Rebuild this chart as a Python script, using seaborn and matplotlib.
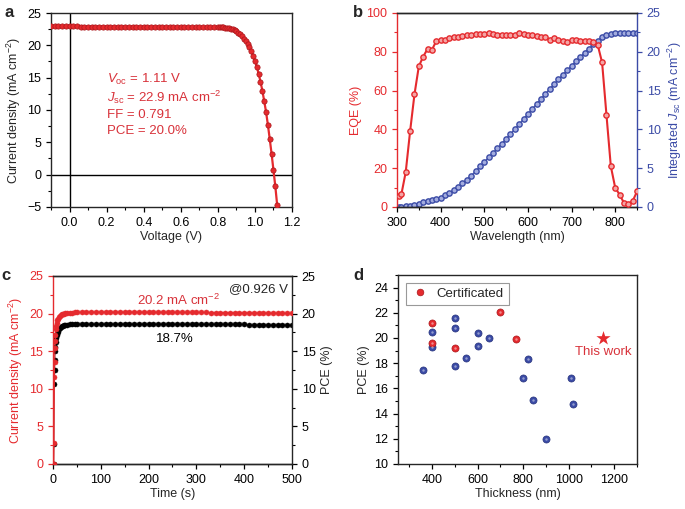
import matplotlib
matplotlib.use("Agg")
import matplotlib.pyplot as plt
from matplotlib.ticker import MultipleLocator
import seaborn as sns

# ---- a: J-V curve
voltage = [-0.10, -0.08, -0.06, -0.04, -0.02, 0.00, 0.02, 0.04, 0.06, 0.08,
           0.10, 0.12, 0.14, 0.16, 0.18, 0.20, 0.22, 0.24, 0.26, 0.28,
           0.30, 0.32, 0.34, 0.36, 0.38, 0.40, 0.42, 0.44, 0.46, 0.48,
           0.50, 0.52, 0.54, 0.56, 0.58, 0.60, 0.62, 0.64, 0.66, 0.68,
           0.70, 0.72, 0.74, 0.76, 0.78, 0.80, 0.81, 0.82, 0.83, 0.84,
           0.85, 0.86, 0.87, 0.88, 0.89, 0.90, 0.91, 0.92, 0.93, 0.94,
           0.95, 0.96, 0.97, 0.98, 0.99, 1.00, 1.01, 1.02, 1.03, 1.04,
           1.05, 1.06, 1.07, 1.08, 1.09, 1.10, 1.11, 1.12]
current_density = [22.93, 22.93, 22.93, 22.92, 22.92, 22.92, 22.92, 22.92, 22.91, 22.91,
                   22.91, 22.91, 22.91, 22.91, 22.90, 22.90, 22.90, 22.90, 22.90, 22.90,
                   22.89, 22.89, 22.89, 22.89, 22.89, 22.88, 22.88, 22.88, 22.88, 22.87,
                   22.87, 22.87, 22.86, 22.86, 22.86, 22.85, 22.85, 22.85, 22.84, 22.84,
                   22.84, 22.84, 22.83, 22.83, 22.83, 22.82, 22.81, 22.79, 22.77, 22.74,
                   22.69, 22.63, 22.55, 22.45, 22.32, 22.15, 21.95, 21.70, 21.40, 21.05,
                   20.65, 20.20, 19.70, 19.10, 18.40, 17.60, 16.70, 15.60, 14.40, 13.00,
                   11.40, 9.70, 7.70, 5.50, 3.20, 0.70, -1.80, -4.70]

# ---- b: EQE and integrated Jsc
wavelength = [304, 310, 320, 330, 340, 350, 360, 370, 380, 390,
              400, 410, 420, 430, 440, 450, 460, 470, 480, 490,
              500, 510, 520, 530, 540, 550, 560, 570, 580, 590,
              600, 610, 620, 630, 640, 650, 660, 670, 680, 690,
              700, 710, 720, 730, 740, 750, 760, 770, 780, 790,
              800, 810, 820, 830, 840, 850]
eqe = [5.5, 6.5, 18.0, 39.0, 58.0, 72.5, 77.5, 81.5, 81.0, 85.5,
       86.0, 86.0, 87.0, 87.5, 87.8, 88.0, 88.5, 88.8, 89.0, 89.0,
       89.3, 89.5, 89.3, 88.8, 88.8, 88.8, 88.8, 88.8, 89.5, 89.0,
       88.8, 88.5, 88.2, 87.8, 87.5, 86.3, 87.0, 86.2, 85.8, 85.0,
       86.0, 86.0, 85.8, 85.8, 85.5, 85.2, 83.5, 74.5, 47.5, 21.0,
       10.0, 6.4, 2.2, 1.7, 3.0, 8.0]
integrated_jsc = [0.0, 0.03, 0.08, 0.16, 0.28, 0.42, 0.58, 0.76, 0.90, 1.05,
                  1.22, 1.50, 1.83, 2.20, 2.60, 3.05, 3.53, 4.05, 4.62, 5.22,
                  5.82, 6.40, 6.98, 7.58, 8.18, 8.80, 9.42, 10.05, 10.70, 11.35,
                  12.00, 12.65, 13.30, 13.95, 14.60, 15.22, 15.85, 16.45, 17.05, 17.65,
                  18.22, 18.78, 19.33, 19.88, 20.42, 20.95, 21.45, 21.88, 22.17, 22.32,
                  22.40, 22.43, 22.44, 22.45, 22.45, 22.46]

# ---- c: steady-state output at 0.926 V
time_s = [1.5, 2, 3, 3.5, 4, 4.5, 5, 6, 7, 8, 9, 10, 12, 14, 16, 18, 20, 23, 26, 30,
          35, 40, 45, 50, 60, 70, 80, 90, 100, 110, 120, 130, 140,
          150, 160, 170, 180, 190, 200, 210, 220, 230, 240,
          250, 260, 270, 280, 290, 300, 310, 320, 330, 340,
          350, 360, 370, 380, 390, 400, 410, 420, 430, 440,
          450, 460, 470, 480, 490, 500]
jsc_track = [0.0, 2.8, 11.6, 13.6, 15.4, 16.4, 17.1, 17.9, 18.4, 18.8, 19.1, 19.3, 19.5, 19.7, 19.8, 19.9, 19.95, 20.0, 20.05, 20.1,
             20.12, 20.14, 20.15, 20.15, 20.18, 20.2, 20.2, 20.2, 20.21, 20.21, 20.21, 20.2, 20.2,
             20.2, 20.2, 20.2, 20.2, 20.19, 20.19, 20.19, 20.18, 20.18, 20.18,
             20.17, 20.17, 20.17, 20.16, 20.16, 20.15, 20.15, 20.15, 20.14, 20.14,
             20.13, 20.13, 20.12, 20.12, 20.11, 20.1, 20.1, 20.09, 20.08, 20.08,
             20.07, 20.06, 20.06, 20.05, 20.04, 20.04]
pce_track = [0.0, 2.6, 10.6, 12.5, 13.8, 15.0, 15.6, 16.2, 16.7, 17.1, 17.4, 17.6, 17.9, 18.1, 18.2, 18.3, 18.4, 18.45, 18.5, 18.55,
             18.57, 18.58, 18.6, 18.6, 18.62, 18.63, 18.64, 18.64, 18.65, 18.65, 18.65, 18.65, 18.65,
             18.65, 18.65, 18.65, 18.64, 18.64, 18.64, 18.64, 18.63, 18.63, 18.63,
             18.62, 18.62, 18.62, 18.61, 18.61, 18.6, 18.6, 18.6, 18.59, 18.59,
             18.58, 18.58, 18.57, 18.57, 18.56, 18.56, 18.55, 18.55, 18.54, 18.54,
             18.53, 18.53, 18.52, 18.52, 18.51, 18.5]

# ---- d: PCE vs absorber thickness
thick_reported = [360, 400, 400, 500, 500, 500, 550, 600, 600, 650, 800, 820, 845, 900, 1010, 1017]
pce_reported = [17.5, 19.3, 20.5, 21.6, 20.8, 17.8, 18.4, 20.4, 19.4, 20.0, 16.8, 18.3, 15.1, 12.0, 16.8, 14.8]
thick_cert = [400, 400, 500, 700, 770]
pce_cert = [21.2, 19.6, 19.2, 22.1, 19.9]
thick_this = [1150]
pce_this = [20.0]

RED = "#e52a2e"
RED_DARK = "#a8161b"
RED_TXT = "#d8323a"
BLUE = "#3b4ba6"
BLUE_DARK = "#27337a"

sns.set_style("ticks")
plt.rcParams["font.family"] = ["Liberation Sans", "DejaVu Sans"]
plt.rcParams["mathtext.fontset"] = "custom"
plt.rcParams["mathtext.rm"] = "Liberation Sans"
plt.rcParams["mathtext.it"] = "Liberation Sans:italic"
plt.rcParams["font.size"] = 9
plt.rcParams["axes.linewidth"] = 1.0
for k in ("xtick", "ytick"):
    plt.rcParams[k + ".direction"] = "out"
    plt.rcParams[k + ".major.size"] = 3.5
    plt.rcParams[k + ".minor.size"] = 2.0
    plt.rcParams[k + ".major.width"] = 0.9
    plt.rcParams[k + ".minor.width"] = 0.8
    plt.rcParams[k + ".labelsize"] = 9
    plt.rcParams[k + ".color"] = "black"

W, H = 685, 509
fig = plt.figure(figsize=(W / 100, H / 100), dpi=100)


def box(l, r, t, b):
    return [l / W, 1 - b / H, (r - l) / W, (b - t) / H]


def balls(ax, x, y, color, edge, s, z=3):
    sns.scatterplot(x=x, y=y, ax=ax, color=color, edgecolor=edge, linewidth=0.5,
                    s=s, zorder=z, legend=False)
    sns.scatterplot(x=x, y=y, ax=ax, color="white", alpha=0.45, linewidth=0,
                    s=s * 0.12, zorder=z + 0.1, legend=False)


# ---------------- a ----------------
ax = fig.add_axes(box(51, 292, 13, 207))
ax.axhline(0, color="black", lw=1.0, zorder=1)
ax.axvline(0, color="black", lw=1.0, zorder=1)
sns.lineplot(x=voltage, y=current_density, ax=ax, color=RED, lw=1.6, sort=False,
             marker="o", markersize=3.8, markerfacecolor=RED, markeredgecolor=RED_DARK,
             markeredgewidth=0.5, zorder=3)
ax.set_xlim(-0.1, 1.2)
ax.set_ylim(-5, 25)
ax.xaxis.set_minor_locator(MultipleLocator(0.1))
ax.yaxis.set_major_locator(MultipleLocator(5))
ax.yaxis.set_minor_locator(MultipleLocator(2.5))
ax.set_xticks([0.0, 0.2, 0.4, 0.6, 0.8, 1.0, 1.2])
ax.set_xticklabels(["0.0", "0.2", "0.4", "0.6", "0.8", "1.0", "1.2"])
ax.set_xlabel("Voltage (V)", labelpad=2)
ax.set_ylabel("Current density (mA cm$^{-2}$)", labelpad=3)
for txt, yv in [(r"$V_{\mathrm{oc}}$ = 1.11 V", 14.7),
                (r"$J_{\mathrm{sc}}$ = 22.9 mA cm$^{-2}$", 12.0),
                ("FF = 0.791", 9.25),
                ("PCE = 20.0%", 6.8)]:
    ax.text(0.2, yv, txt, color=RED_TXT, fontsize=9.5, va="center", ha="left")
ax.text(-0.195, 1.0, "a", transform=ax.transAxes, fontsize=12, fontweight="bold", va="center")

# ---------------- b ----------------
ax = fig.add_axes(box(397, 637, 13, 207))
ax2 = ax.twinx()
sns.lineplot(x=wavelength, y=integrated_jsc, ax=ax2, color=BLUE, lw=0.8, marker="o",
             markersize=3.8, markerfacecolor="#a3acdf", markeredgecolor=BLUE,
             markeredgewidth=1.0, zorder=2)
ax.set_zorder(ax2.get_zorder() + 1)
ax.patch.set_visible(False)
sns.lineplot(x=wavelength, y=eqe, ax=ax, color=RED, lw=1.5, marker="o",
             markersize=3.8, markerfacecolor="#f4a5a5", markeredgecolor=RED,
             markeredgewidth=1.0, zorder=3)
ax.set_xlim(300, 850)
ax.set_ylim(0, 100)
ax2.set_ylim(0, 25)
ax.xaxis.set_major_locator(MultipleLocator(100))
ax.xaxis.set_minor_locator(MultipleLocator(50))
ax.yaxis.set_major_locator(MultipleLocator(20))
ax.yaxis.set_minor_locator(MultipleLocator(10))
ax2.yaxis.set_major_locator(MultipleLocator(5))
ax2.yaxis.set_minor_locator(MultipleLocator(2.5))
ax.spines["left"].set_color(RED)
ax.spines["right"].set_visible(False)
ax2.spines["right"].set_color(BLUE)
ax2.spines["left"].set_visible(False)
ax.tick_params(axis="y", which="both", colors=RED, labelcolor=RED)
ax2.tick_params(axis="y", which="both", colors=BLUE, labelcolor=BLUE)
ax.set_xlabel("Wavelength (nm)", labelpad=2)
ax.set_ylabel("EQE (%)", color=RED, labelpad=3)
ax2.set_ylabel("Integrated $J_{\\mathrm{sc}}$ (mA cm$^{-2}$)", color=BLUE, labelpad=4)
ax.text(-0.185, 1.0, "b", transform=ax.transAxes, fontsize=12, fontweight="bold", va="center")

# ---------------- c ----------------
ax = fig.add_axes(box(53, 292, 276, 464))
ax2 = ax.twinx()
ax.set_zorder(ax2.get_zorder() + 1)
ax.patch.set_visible(False)
sns.lineplot(x=time_s, y=pce_track, ax=ax2, color="#9a9a9a", lw=0.8, marker="o",
             markersize=3.6, markerfacecolor="black", markeredgecolor="black",
             markeredgewidth=0.4, zorder=2)
sns.lineplot(x=time_s, y=jsc_track, ax=ax, color=RED, lw=0.8, marker="o",
             markersize=3.6, markerfacecolor=RED, markeredgecolor=RED,
             markeredgewidth=0.4, zorder=3)
ax.set_xlim(0, 500)
ax.set_ylim(0, 25)
ax2.set_ylim(0, 25)
ax.xaxis.set_major_locator(MultipleLocator(100))
ax.xaxis.set_minor_locator(MultipleLocator(50))
for a in (ax, ax2):
    a.yaxis.set_major_locator(MultipleLocator(5))
    a.yaxis.set_minor_locator(MultipleLocator(2.5))
ax.spines["left"].set_color(RED)
ax.spines["right"].set_visible(False)
ax2.spines["left"].set_visible(False)
ax.tick_params(axis="y", which="both", colors=RED, labelcolor=RED)
ax.set_xlabel("Time (s)", labelpad=2)
ax.set_ylabel("Current density (mA cm$^{-2}$)", color=RED, labelpad=3)
ax2.set_ylabel("PCE (%)", labelpad=4)
ax.text(0.985, 0.93, "@0.926 V", transform=ax.transAxes, ha="right", va="center", fontsize=9.5)
ax.text(262, 21.8, "20.2 mA cm$^{-2}$", color=RED_TXT, ha="center", va="center", fontsize=9.5)
ax.text(255, 16.6, "18.7%", color="black", ha="center", va="center", fontsize=9.5)
ax.text(-0.215, 1.0, "c", transform=ax.transAxes, fontsize=12, fontweight="bold", va="center")

# ---------------- d ----------------
ax = fig.add_axes(box(398, 637, 275, 464))
balls(ax, thick_reported, pce_reported, BLUE, BLUE_DARK, 26)
balls(ax, thick_cert, pce_cert, RED, RED_DARK, 26)
sns.scatterplot(x=thick_this, y=pce_this, ax=ax, marker="*", color=RED, s=115,
                linewidth=0, zorder=4, legend=False)
ax.text(1150, 18.9, "This work", color=RED_TXT, ha="center", va="center", fontsize=9.5)
ax.set_xlim(250, 1300)
ax.set_ylim(10, 25)
ax.xaxis.set_minor_locator(MultipleLocator(100))
ax.set_xticks([400, 600, 800, 1000, 1200])
ax.yaxis.set_major_locator(MultipleLocator(2))
ax.yaxis.set_minor_locator(MultipleLocator(1))
ax.set_xlabel("Thickness (nm)", labelpad=2)
ax.set_ylabel("PCE (%)", labelpad=3)
handle = plt.Line2D([], [], ls="none", marker="o", markersize=4.8, markerfacecolor=RED,
                    markeredgecolor=RED_DARK, markeredgewidth=0.5)
leg = ax.legend([handle], ["Certificated"], loc="upper left", frameon=True, fancybox=False,
                edgecolor="#999999", framealpha=1, fontsize=9.5, handletextpad=0.5,
                borderpad=0.4, bbox_to_anchor=(0.005, 0.995), handlelength=1.4)
leg.get_frame().set_linewidth(0.8)
ax.text(-0.185, 1.0, "d", transform=ax.transAxes, fontsize=12, fontweight="bold", va="center")

fig.savefig("out.png", dpi=100)
